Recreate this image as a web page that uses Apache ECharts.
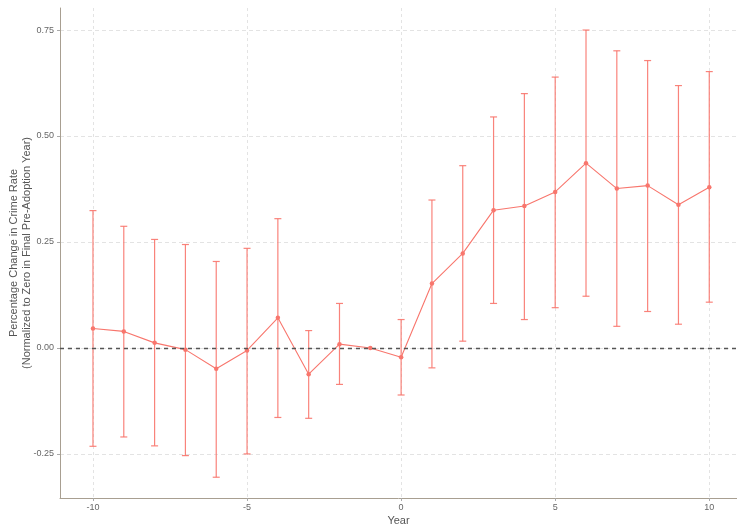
<!DOCTYPE html>
<html>
<head>
<meta charset="utf-8">
<script src="https://cdn.jsdelivr.net/npm/echarts@6/dist/echarts.min.js"></script>
<style>
html,body{margin:0;padding:0;background:#fff;}
#chart{width:737px;height:529px;}
</style>
</head>
<body>
<div id="chart"></div>
<script>
// Data
var years = [-10,-9,-8,-7,-6,-5,-4,-3,-2,-1,0,1,2,3,4,5,6,7,8,9,10];
var estimates = [0.046,0.039,0.012,-0.004,-0.049,-0.006,0.071,-0.062,0.009,0.000,-0.022,0.152,0.223,0.325,0.335,0.368,0.436,0.376,0.383,0.338,0.379];
var lowerCI = [-0.232,-0.210,-0.231,-0.254,-0.305,-0.250,-0.164,-0.166,-0.086,null,-0.111,-0.047,0.016,0.105,0.067,0.095,0.122,0.051,0.086,0.056,0.108];
var upperCI = [0.324,0.287,0.256,0.244,0.204,0.235,0.305,0.041,0.105,null,0.067,0.349,0.430,0.545,0.600,0.639,0.750,0.701,0.678,0.619,0.652];
var xTicks = [-10,-5,0,5,10];
var yTicks = [-0.25,0,0.25,0.5,0.75];

var pointData = years.map(function(y,i){return [y, estimates[i]];});
var errData = [];
years.forEach(function(y,i){
  if (lowerCI[i] !== null && upperCI[i] !== null) errData.push([y, lowerCI[i], upperCI[i]]);
});

var RED = '#F8766D';
var FONT = 'Liberation Sans, Arial, sans-serif';
var chart = echarts.init(document.getElementById('chart'), null, {renderer:'canvas'});
chart.setOption({
  animation:false,
  backgroundColor:'#fff',
  grid:{left:60, right:0, top:8, bottom:31, containLabel:false, outerBoundsMode:'none'},
  xAxis:{
    type:'value', min:-11.07, max:10.9,
    name:'Year', nameLocation:'middle', nameGap:17, nameMoveOverlap:false,
    nameTextStyle:{color:'#555', fontSize:11, fontFamily:FONT},
    axisLine:{show:true, onZero:false, lineStyle:{color:'#a89f91', width:1}},
    axisTick:{show:true, length:3, lineStyle:{color:'#aaa'}, customValues:xTicks},
    axisLabel:{color:'#666', fontSize:9, margin:5, customValues:xTicks, fontFamily:FONT,
      formatter:function(v){return String(v);}},
    splitLine:{show:true, lineStyle:{color:'#e3e3e3', type:[3,3], width:1}}
  },
  yAxis:{
    type:'value', min:-0.354, max:0.802,
    name:'Percentage Change in Crime Rate\n(Normalized to Zero in Final Pre-Adoption Year)',
    nameLocation:'middle', nameGap:27, nameRotate:90, nameMoveOverlap:false,
    nameTextStyle:{color:'#555', fontSize:11, lineHeight:13, fontFamily:FONT},
    axisLine:{show:true, onZero:false, lineStyle:{color:'#a89f91', width:1}},
    axisTick:{show:true, length:3, lineStyle:{color:'#aaa'}, customValues:yTicks},
    axisLabel:{color:'#666', fontSize:9, margin:6, customValues:yTicks, fontFamily:FONT,
      formatter:function(v){return v.toFixed(2);}},
    splitLine:{show:true, lineStyle:{color:'#e3e3e3', type:[4,3], width:1}}
  },
  series:[
    {
      type:'custom',
      data:errData,
      z:3,
      renderItem:function(params, api){
        var x = api.value(0);
        var lo = api.coord([x, api.value(1)]);
        var hi = api.coord([x, api.value(2)]);
        var w = 3.5;
        var style = {stroke:RED, lineWidth:1.2, opacity:0.9};
        return {type:'group', children:[
          {type:'line', shape:{x1:lo[0], y1:lo[1], x2:hi[0], y2:hi[1]}, style:style},
          {type:'line', shape:{x1:lo[0]-w, y1:lo[1], x2:lo[0]+w, y2:lo[1]}, style:style},
          {type:'line', shape:{x1:hi[0]-w, y1:hi[1], x2:hi[0]+w, y2:hi[1]}, style:style}
        ]};
      }
    },
    {
      type:'line',
      data:pointData,
      z:4,
      symbol:'circle', symbolSize:4.5,
      itemStyle:{color:RED},
      lineStyle:{color:RED, width:1.1},
      markLine:{
        silent:true, symbol:['none','none'], label:{show:false},
        lineStyle:{color:'#555', type:[4,4], width:1.3},
        data:[{yAxis:0}]
      }
    }
  ]
});
</script>
</body>
</html>
